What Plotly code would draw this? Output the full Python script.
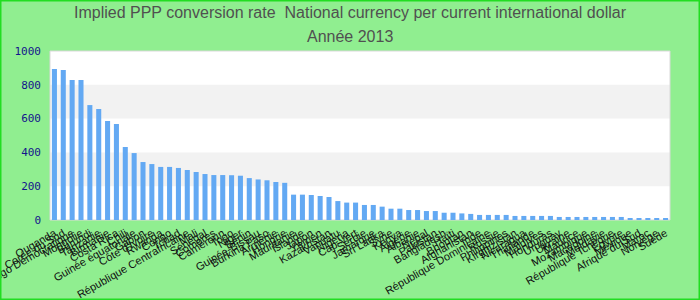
import plotly.graph_objects as go

countries = [
    "Ouganda", "Corée du Sud", "Congo Démocratique", "Mongolie", "Burundi",
    "Tanzanie", "Birmanie", "Costa Rica", "Chili", "Guinée équatoriale",
    "Gabon", "Côte d'Ivoire", "Rwanda", "Congo", "Tchad",
    "République Centrafricaine", "Mali", "Sénégal", "Comores", "Cameroun",
    "Togo", "Niger", "Bénin", "Guinée-Bissau", "Burkina Faso",
    "Arménie", "Hongrie", "Mauritanie", "Islande", "Japon",
    "Yémen", "Kazakhstan", "Vanuatu", "Nigeria", "Cap-Vert",
    "Serbie", "Jamaïque", "Sri Lanka", "Syrie", "Kenya",
    "Algérie", "Albanie", "Népal", "Pakistan", "Bangladesh",
    "Haïti", "Bhoutan", "Afghanistan", "Inde", "République Dominicaine",
    "Russie", "Philippines", "Kirghizistan", "Nicaragua", "Thaïlande",
    "Maldives", "Honduras", "Uruguay", "Ukraine", "Maurice",
    "Mozambique", "Macédoine", "Moldavie", "République Tchèque", "Égypte",
    "Mexique", "Afrique du Sud", "Maroc", "Norvège", "Suède",
]

values = [
    893, 887, 828, 828, 680, 657, 586, 568, 432, 396,
    343, 331, 314, 314, 308, 296, 284, 272, 266, 266,
    265, 262, 248, 240, 235, 225, 220, 150, 150, 148,
    142, 136, 112, 103, 103, 89, 89, 79, 67, 67,
    59, 59, 53, 53, 43, 43, 39, 36, 30, 30,
    30, 30, 24, 24, 24, 24, 24, 18, 18, 18,
    18, 18, 18, 18, 18, 12, 12, 12, 12, 12,
]

y_ticks = [0, 200, 400, 600, 800, 1000]
title_lines = [
    "Implied PPP conversion rate  National currency per current international dollar",
    "Année 2013",
]

fig = go.Figure(go.Bar(x=countries, y=values, marker=dict(color="#63a9f3", line=dict(width=0))))

ml, mr, mt, mb = 50, 30, 51, 80
pw, ph = 700 - ml - mr, 300 - mt - mb

shapes = []
for lo, hi in [(200, 400), (600, 800)]:
    shapes.append(dict(type="rect", xref="paper", yref="y", x0=0, x1=1, y0=lo, y1=hi,
                       fillcolor="#f2f2f2", line=dict(width=0), layer="below"))
shapes.append(dict(type="rect", xref="paper", yref="paper", x0=0, x1=1, y0=0, y1=1,
                   line=dict(color="#d9d9d9", width=1), layer="below"))
shapes.append(dict(type="rect", xref="paper", yref="paper",
                   x0=-ml / pw + 0.5 / pw, x1=1 + mr / pw - 0.5 / pw,
                   y0=-mb / ph + 0.5 / ph, y1=1 + mt / ph - 0.5 / ph,
                   line=dict(color="#22dd22", width=2)))

annotations = []
for txt, ypx in zip(title_lines, [13, 36]):
    annotations.append(dict(
        text=txt, xref="paper", yref="paper",
        x=(350 - ml) / pw, y=1 + (mt - ypx) / ph,
        xanchor="center", yanchor="middle", showarrow=False,
        font=dict(family="Liberation Sans, Arial", size=16, color="#505050"),
    ))

fig.update_layout(
    width=700, height=300,
    margin=dict(l=ml, r=mr, t=mt, b=mb),
    paper_bgcolor="#90ee90",
    plot_bgcolor="white",
    bargap=0.43,
    showlegend=False,
    shapes=shapes,
    annotations=annotations,
    xaxis=dict(
        type="category", tickmode="array", tickvals=countries, ticktext=countries,
        tickangle=-30, tickfont=dict(family="Liberation Sans, Arial", size=11, color="#111111"),
        showgrid=False, showline=False, ticks="", automargin=False,
        ticklabelstandoff=4,
    ),
    yaxis=dict(
        range=[0, 1000], tickmode="array", tickvals=y_ticks,
        tickfont=dict(family="DejaVu Sans Mono, monospace", size=11, color="#14148c"),
        showgrid=False, zeroline=False, showline=False, ticks="", automargin=False,
        ticklabelstandoff=8,
    ),
)

fig.write_html("out.html")
